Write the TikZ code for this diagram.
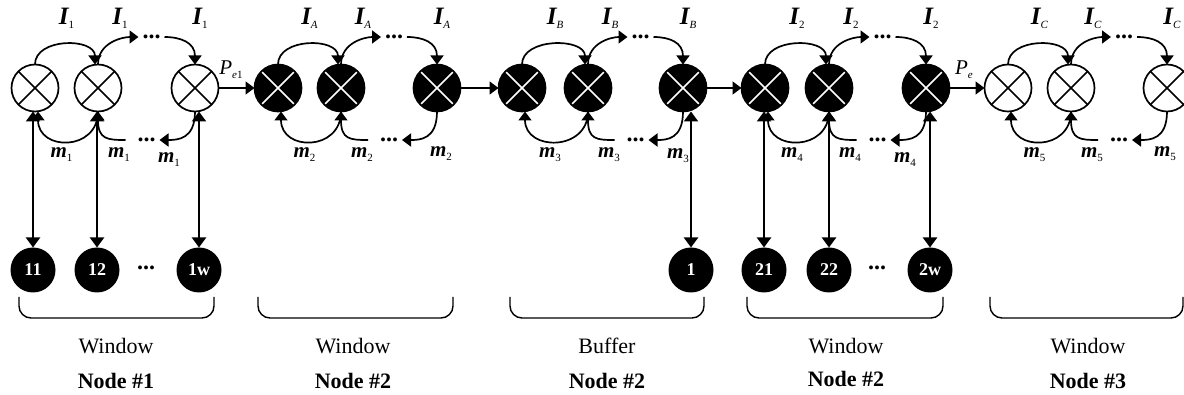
\documentclass[tikz,border=0pt]{standalone}
\usepackage{fontspec}
\setmainfont{Liberation Serif}
\usetikzlibrary{arrows.meta}
% label with a bold italic symbol and a small lowered index
\newcommand\vlab[3]{{\fontsize{#1}{#1}\selectfont\bfseries\itshape #2}\raisebox{-4pt}{\fontsize{11}{11}\selectfont #3}}
\begin{document}
\begin{tikzpicture}[x=1pt,y=-1pt,
  line width=1.7pt,
  every node/.style={inner sep=0pt, outer sep=0pt},
  arr/.style={-{Triangle[length=9pt,width=13pt]}},
  biarr/.style={{Triangle[length=10pt,width=14pt]}-{Triangle[length=10pt,width=14pt]}, line width=2.2pt},
  xcross/.style={path picture={\draw[line width=1.7pt,#1]
      (path picture bounding box.north west) -- (path picture bounding box.south east)
      (path picture bounding box.north east) -- (path picture bounding box.south west);}},
  wmux/.style={circle, draw, minimum size=47pt, xcross=black},
  bmux/.style={circle, draw, fill=black, minimum size=47pt, xcross=white},
  host/.style={circle, fill=black, minimum size=45pt, text=white, font=\fontsize{18}{18}\selectfont\bfseries},
  ell/.style={font=\fontsize{24}{24}\selectfont\bfseries, inner xsep=4pt},
  brk/.style={line width=1.4pt, rounded corners=12pt},
  wintext/.style={font=\fontsize{22}{22}\selectfont},
  nodetext/.style={font=\fontsize{22}{22}\selectfont\bfseries},
  plab/.style={font=\fontsize{21}{21}\selectfont\itshape}
]
\useasboundingbox (0,0) rectangle (1184,395);

% five groups of three switching elements with their forward and backward loops
\foreach \k/\a/\b/\c/\st in {1/35/98/195/wmux, 2/278/341/437/bmux, 3/522/588/683/bmux, 4/765/829/926/bmux, 5/1008/1071/1167/wmux}{
  \node[\st] (w\k1) at (\a,88) {};
  \node[\st] (w\k2) at (\b,88) {};
  \node[\st] (w\k3) at (\c,88) {};
  \node[ell] (t\k) at ({(\b+\c)/2+5},37) {...};
  \node[ell] (b\k) at ({(\b+\c)/2},140) {...};
  \draw[arr] (w\k1.north) .. controls +(0,-27) and +(0,-27) .. ([xshift=-3pt]w\k2.north);
  \draw[arr] (w\k2.north) .. controls +(0,-22) and +(-16,0) .. (t\k.west);
  \draw[arr] (t\k.east) .. controls +(16,0) and +(0,-22) .. (w\k3.north);
  \draw[arr] (w\k2.south) .. controls +(0,40) and +(0,40) .. ([xshift=3pt]w\k1.south);
  \draw[arr] ([xshift=-8pt]b\k.west) .. controls +(-18,0) and +(0,28) .. (w\k2.south);
  \draw[arr] (w\k3.south) .. controls +(0,28) and +(18,0) .. (b\k.east);
}

% loop labels
\foreach \k/\a/\b/\c/\il/\ml/\mx/\my in {1/35/98/195/1/1/-26/160, 2/278/341/437/\textit{A}/2/4/154, 3/522/588/683/\textit{B}/3/-5/156, 4/765/829/926/2/4/-21/160, 5/1008/1071/1167/\textit{C}/5/-2/154}{
  \node (i\k1) at ({(\a+\b)/2},18) {\vlab{25}{I}{\il}};
  \node (i\k2) at ({\b+22},18) {\vlab{25}{I}{\il}};
  \node (i\k3) at ({\c+5},18) {\vlab{25}{I}{\il}};
  \node (m\k1) at ({(\a+\b)/2-5},155) {\vlab{21}{m}{\ml}};
  \node (m\k2) at ({\b+21},155) {\vlab{21}{m}{\ml}};
  \node (m\k3) at ({\c+\mx},\my) {\vlab{21}{m}{\ml}};
}

% links between the groups
\draw[arr] (w13) -- (w21);
\draw[arr] (w23) -- (w31);
\draw[arr] (w33) -- (w41);
\draw[arr] (w43) -- (w51);
\node[plab] (pe1) at (231,70) {P\raisebox{-4pt}{\fontsize{11}{11}\selectfont\textit{e}\textup{1}}};
\node[plab] (pe) at (964,70) {P\raisebox{-4pt}{\fontsize{11}{11}\selectfont e}};

% attached hosts
\node[host] (h11) at (33,270) {11};
\node[host] (h12) at (97,270) {12};
\node[ell] (hd1) at (146,268) {...};
\node[host] (h1w) at (199,270) {1w};
\node[host] (h31) at (691,270) {1};
\node[host] (h41) at (764,270) {21};
\node[host] (h42) at (829,270) {22};
\node[ell] (hd4) at (877,268) {...};
\node[host] (h4w) at (930,270) {2w};

\draw[biarr] (h11) -- (h11 |- w11.south);
\draw[biarr] (h12) -- (h12 |- w12.south);
\draw[biarr] (h1w) -- (h1w |- w13.south);
\draw[biarr] (h31) -- (h31 |- w33.south);
\draw[biarr] (h41) -- (h41 |- w41.south);
\draw[biarr] (h42) -- (h42 |- w42.south);
\draw[biarr] (h4w) -- (h4w |- w43.south);

% group brackets and captions
\draw[brk] (19,297) -- (19,318) -- (214,318) -- (214,297);
\draw[brk] (258,297) -- (258,318) -- (453,318) -- (453,297);
\draw[brk] (510,297) -- (510,318) -- (704,318) -- (704,297);
\draw[brk] (747,297) -- (747,318) -- (943,318) -- (943,297);
\draw[brk] (990,297) -- (990,318) -- (1183,318) -- (1183,297);

\node[wintext] (c1) at (116,346) {Window};
\node[wintext] (c2) at (353,346) {Window};
\node[wintext] (c3) at (607,346) {Buffer};
\node[wintext] (c4) at (846,346) {Window};
\node[wintext] (c5) at (1088,346) {Window};

\node[nodetext] (n1) at (116,381) {Node \#1};
\node[nodetext] (n2) at (353,381) {Node \#2};
\node[nodetext] (n3) at (607,381) {Node \#2};
\node[nodetext] (n4) at (846,379) {Node \#2};
\node[nodetext] (n5) at (1088,381) {Node \#3};
\end{tikzpicture}
\end{document}
